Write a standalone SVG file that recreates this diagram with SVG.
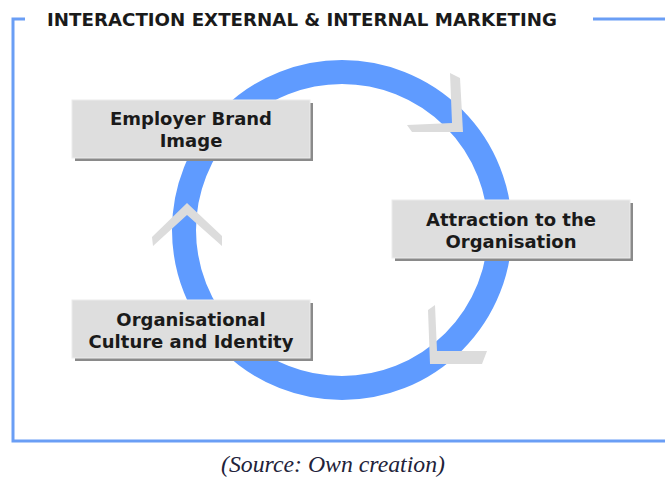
<svg xmlns="http://www.w3.org/2000/svg" width="665" height="479" viewBox="0 0 665 479">
<style>
.frame{fill:none;stroke:#6a9ef5;stroke-width:3}
.title{font-family:"DejaVu Sans",sans-serif;font-weight:bold;font-size:18px;fill:#1a1a1a}
.lbl{font-family:"DejaVu Sans",sans-serif;font-weight:bold;font-size:18px;fill:#1a1a1a;text-anchor:middle}
.box{fill:#dedede;stroke:#ececec;stroke-width:1}
.shadow{fill:#8a8a8a}
.chev{fill:#dcdcdc}
.src{font-family:"Liberation Serif",serif;font-style:italic;font-size:23px;fill:#22223a}
</style>
<rect width="665" height="479" fill="#fff"/>
<g id="frame">
<polyline class="frame" points="25,19 13,19 13,441 665,441"/>
<line class="frame" x1="593" y1="19" x2="665" y2="19"/>
<text class="title" x="47" y="26" textLength="510" lengthAdjust="spacingAndGlyphs">INTERACTION EXTERNAL &amp; INTERNAL MARKETING</text>
</g>
<g id="connectors">
<circle cx="342" cy="230" r="158" fill="none" stroke="#5f9bff" stroke-width="24"/>
<polygon class="chev" points="450,73 460,78 463,132 412,132 407,125 452,123"/>
<polygon class="chev" points="428,310 435,305 437,351 487,351 482,364 430,364"/>
<polygon class="chev" points="187,203 222,236 222,246 187,215 153,246 152,237"/>
</g>
<g id="node-employer-brand">
<rect class="shadow" x="75" y="103" width="238" height="58"/>
<rect class="box" x="72" y="100" width="238" height="58"/>
<text class="lbl" x="191" y="125">Employer Brand</text>
<text class="lbl" x="191" y="147">Image</text>
</g>
<g id="node-attraction">
<rect class="shadow" x="395" y="203" width="238" height="58"/>
<rect class="box" x="392" y="200" width="238" height="58"/>
<text class="lbl" x="511" y="226">Attraction to the</text>
<text class="lbl" x="511" y="248">Organisation</text>
</g>
<g id="node-culture">
<rect class="shadow" x="75" y="303" width="238" height="58"/>
<rect class="box" x="72" y="300" width="238" height="58"/>
<text class="lbl" x="191" y="326">Organisational</text>
<text class="lbl" x="191" y="348">Culture and Identity</text>
</g>
<text class="src" x="221" y="472" textLength="224" lengthAdjust="spacingAndGlyphs">(Source: Own creation)</text>
</svg>
